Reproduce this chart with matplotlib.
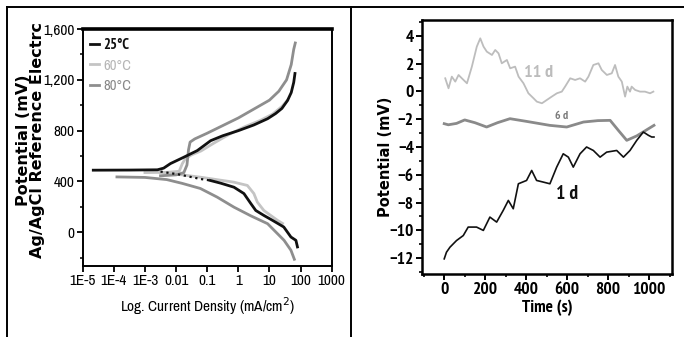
import numpy as np
import matplotlib
matplotlib.use("Agg")
import matplotlib.pyplot as plt
from matplotlib.lines import Line2D
from matplotlib.ticker import MultipleLocator, FixedLocator, NullFormatter
from matplotlib import font_manager as fm

_fonts = fm.fontManager.ttflist
_avail = {f.name for f in _fonts}


def _has_bold(name):
    return any(f.name == name and (f.weight in ('bold', 'semibold', 'heavy', 'black') or
                                    (isinstance(f.weight, int) and f.weight >= 600)) for f in _fonts)


NARROW = [n for n in ['Liberation Sans Narrow', 'Arial Narrow', 'Archivo Narrow', 'Roboto Condensed',
                      'PT Sans Narrow', 'Liberation Sans'] if n in _avail][:1] + ['DejaVu Sans']
NARROW_B = [n for n in ['Liberation Sans Narrow', 'Arial Narrow', 'PT Sans Narrow', 'Barlow Condensed',
                        'Asap Condensed', 'Archivo Narrow', 'Liberation Sans'] if n in _avail and _has_bold(n)][:1] + ['DejaVu Sans']

# ---------------- Left panel data (log10 current density, potential mV) ----------
t25_anodic_logi = [-4.66, -3.5, -2.6, -2.4, -2.18, -1.76, -1.32, -0.89, -0.5, 0.0, 0.5, 0.94, 1.2, 1.4, 1.58, 1.7, 1.78, 1.82]
t25_anodic_E = [489, 490, 492, 505, 541, 590, 643, 721, 760, 800, 845, 894, 935, 975, 1037, 1100, 1180, 1250]
t25_cath_logi = [-2.5, -1.9, -1.22, -0.9, -0.57, -0.14, 0.18, 0.40, 0.56, 0.82, 1.1, 1.46, 1.69, 1.85, 1.9]
t25_cath_E = [478, 455, 420, 408, 387, 355, 305, 227, 172, 133, 94, 42, -37, -63, -115]

t60_anodic_logi = [-3.0, -2.3, -1.9, -1.8, -1.7, -1.5, -1.2, -0.8, -0.3, 0.2, 0.7, 1.1, 1.4, 1.58]
t60_anodic_E = [470, 472, 480, 540, 580, 610, 640, 700, 770, 830, 880, 930, 990, 1040]
t60_cath_logi = [-2.5, -1.8, -1.22, -0.15, 0.29, 0.5, 0.61, 0.82, 1.26, 1.42]
t60_cath_E = [470, 452, 434, 395, 369, 305, 238, 172, 94, 70]

t80_anodic_logi = [-2.5, -2.0, -1.75, -1.65, -1.6, -1.55, -1.4, -1.0, -0.5, 0.0, 0.5, 1.0, 1.3, 1.55, 1.7, 1.78, 1.83]
t80_anodic_E = [445, 452, 470, 530, 650, 710, 735, 780, 840, 900, 970, 1040, 1110, 1200, 1320, 1440, 1490]
t80_cath_logi = [-3.9, -3.0, -2.3, -1.8, -1.22, -0.68, -0.14, 0.4, 0.94, 1.47, 1.69, 1.8]
t80_cath_E = [436, 432, 415, 385, 345, 277, 198, 130, 68, -63, -141, -212]

left_xticks = [1e-5, 1e-4, 1e-3, 1e-2, 1e-1, 1, 10, 100, 1000]
left_xticklabels = ['1E-5', '1E-4', '1E-3', '0.01', '0.1', '1', '10', '100', '1000']
left_yticks = [0, 400, 800, 1200, 1600]
left_yticklabels = ['0', '400', '800', '1,200', '1,600']
legend_labels = ['25°C', '60°C', '80°C']

# ---------------- Right panel data (time s, potential mV) ----------
d11_t = [5, 21, 37, 54, 70, 86, 111, 135, 159, 176, 192, 208, 233, 249, 265, 281, 306, 322, 346, 363, 387, 411,
         436, 452, 477, 501, 525, 550, 574, 590, 615, 639, 663, 688, 704, 728, 753, 769, 794, 818, 834, 850, 867,
         883, 894, 907, 915, 932, 956, 980, 1005, 1021]
d11_v = [0.95, 0.23, 1.07, 0.71, 1.19, 0.95, 0.59, 1.79, 3.23, 3.83, 3.23, 2.87, 2.63, 2.99, 2.75, 2.03, 2.27, 1.67,
         1.79, 1.07, 0.59, -0.13, -0.49, -0.73, -0.85, -0.61, -0.37, -0.13, -0.01, 0.35, 0.95, 0.83, 0.95, 0.71,
         1.07, 1.91, 2.03, 1.55, 1.19, 1.31, 1.91, 1.07, 0.71, -0.37, 0.35, -0.01, 0.35, 0.11, -0.01, -0.01, -0.13, -0.01]
d6_t = [0, 20, 60, 100, 150, 207, 260, 321, 400, 515, 598, 680, 750, 810, 850, 891, 940, 1024]
d6_v = [-2.32, -2.40, -2.30, -2.05, -2.25, -2.56, -2.25, -1.96, -2.15, -2.44, -2.56, -2.20, -2.10, -2.08, -2.80, -3.52, -3.20, -2.44]
d1_t = [0, 11, 28, 60, 93, 117, 158, 191, 223, 256, 288, 313, 337, 362, 402, 427, 451, 484, 516, 549, 581,
        606, 630, 663, 695, 728, 761, 793, 842, 875, 907, 940, 972, 997, 1013, 1024]
d1_v = [-12.06, -11.58, -11.22, -10.74, -10.38, -9.77, -9.77, -10.01, -9.05, -9.41, -8.57, -7.85, -8.45, -6.65,
        -6.41, -5.69, -6.41, -6.53, -6.65, -5.45, -4.49, -4.73, -5.45, -4.49, -4.00, -4.25, -4.73, -4.37, -4.25,
        -4.73, -4.25, -3.52, -2.92, -3.16, -3.28, -3.28]
right_xticks = [0, 200, 400, 600, 800, 1000]
right_yticks = [-12, -10, -8, -6, -4, -2, 0, 2, 4]

C25, C60, C80 = '#111111', '#c4c4c4', '#8e8e8e'

fig = plt.figure(figsize=(6.84, 3.37), dpi=100)
W, H = 684.0, 337.0


def fx(px):
    return px / W


def fy(py):
    return 1 - py / H


# outer frame lines
fig.add_artist(Line2D([fx(7), 1.0], [fy(7), fy(7)], color='black', lw=1.4))
fig.add_artist(Line2D([fx(7), fx(7)], [fy(7), 0], color='black', lw=1.4))
fig.add_artist(Line2D([fx(351), fx(351)], [fy(7), 0], color='black', lw=1.4))

# ---------------- left axes ----------------
axL = fig.add_axes([fx(82.7), fy(266), (331.7 - 82.7) / W, (266 - 29) / H])
axL.set_xscale('log')
axL.set_xlim(1e-5, 1e3)
axL.set_ylim(-265, 1600)
lwc = 2.0
axL.plot(10 ** np.array(t80_cath_logi), t80_cath_E, color=C80, lw=lwc)
axL.plot(10 ** np.array(t60_cath_logi), t60_cath_E, color=C60, lw=lwc)
axL.plot(10 ** np.array(t60_anodic_logi), t60_anodic_E, color=C60, lw=lwc)
axL.plot(10 ** np.array(t80_anodic_logi), t80_anodic_E, color=C80, lw=lwc)
axL.plot(10 ** np.array(t25_cath_logi[:4]), t25_cath_E[:4], color=C25, lw=1.6, ls=':')
axL.plot(10 ** np.array(t25_cath_logi[3:]), t25_cath_E[3:], color=C25, lw=lwc)
axL.plot(10 ** np.array(t25_anodic_logi), t25_anodic_E, color=C25, lw=lwc)
h25 = Line2D([], [], color=C25, lw=2.0)
h60 = Line2D([], [], color=C60, lw=2.0)
h80 = Line2D([], [], color=C80, lw=2.0)
leg = axL.legend([h25, h60, h80], legend_labels, loc='upper left', frameon=False,
                 handlelength=0.6, handletextpad=0.35, labelspacing=0.42,
                 borderaxespad=0.0, bbox_to_anchor=(0.005, 0.985),
                 prop={'family': NARROW, 'size': 10.5})
for txt, c in zip(leg.get_texts(), [C25, '#b5b5b5', '#888888']):
    txt.set_color(c)
leg.get_texts()[0].set_family(NARROW_B)
leg.get_texts()[0].set_fontweight('bold')

axL.xaxis.set_major_locator(FixedLocator(left_xticks))
axL.set_xticklabels(left_xticklabels)
axL.xaxis.set_minor_formatter(NullFormatter())
axL.xaxis.set_minor_locator(FixedLocator([]))
axL.set_yticks(left_yticks)
axL.set_yticklabels(left_yticklabels)
axL.yaxis.set_minor_locator(MultipleLocator(200))
axL.tick_params(axis='both', which='major', direction='out', length=4, width=1.3, labelsize=11, pad=2)
axL.tick_params(axis='y', which='minor', direction='out', length=2.5, width=1.1)
for lab in axL.get_xticklabels() + axL.get_yticklabels():
    lab.set_family(NARROW)
for s in ['left', 'bottom', 'right']:
    axL.spines[s].set_linewidth(1.4)
axL.spines['top'].set_linewidth(2.6)
axL.set_xlabel('Log. Current Density (mA/cm$^{2}$)', family=NARROW, fontsize=11, labelpad=5)
fig.text(fx(30.5), fy(140), 'Potential (mV)\nAg/AgCl Reference Electrc', rotation=90,
         ha='center', va='center', multialignment='center', linespacing=0.95,
         fontsize=11.5, fontweight='bold', family='DejaVu Sans')

# ---------------- right axes ----------------
axR = fig.add_axes([fx(422.3), fy(274), (672 - 422.3) / W, (274 - 20) / H])
axR.set_xlim(-107, 1112)
axR.set_ylim(-13.15, 5.15)
axR.plot(d11_t, d11_v, color='#bdbdbd', lw=1.3)
axR.plot(d6_t, d6_v, color='#8a8a8a', lw=2.0)
axR.plot(d1_t, d1_v, color='#111111', lw=1.2)
axR.text(460, 1.3, '11 d', color='#bcbcbc', fontsize=13, family=NARROW_B, fontweight='bold',
         ha='center', va='center')
axR.text(575, -1.8, '6 d', color='#7a7a7a', fontsize=8.5, family=NARROW_B, fontweight='bold',
         ha='center', va='center')
axR.text(600, -7.4, '1 d', color='#111111', fontsize=14, family=NARROW_B, fontweight='bold',
         ha='center', va='center')
axR.set_xticks(right_xticks)
axR.set_yticks(right_yticks)
axR.xaxis.set_minor_locator(MultipleLocator(100))
axR.yaxis.set_minor_locator(MultipleLocator(1))
axR.tick_params(axis='both', which='major', direction='out', length=4, width=1.4, labelsize=12.5, pad=2)
axR.tick_params(axis='both', which='minor', direction='out', length=2.5, width=1.2)
for lab in axR.get_xticklabels() + axR.get_yticklabels():
    lab.set_family(NARROW_B)
    lab.set_fontweight('bold')
for s in axR.spines.values():
    s.set_linewidth(1.8)
axR.set_xlabel('Time (s)', family=NARROW_B, fontsize=12.5, fontweight='bold', labelpad=1)
axR.set_ylabel('Potential (mV)', family='DejaVu Sans', fontsize=10.5, fontweight='bold')
axR.yaxis.set_label_coords(-0.117, 0.46)

fig.savefig('out.png', dpi=100)
